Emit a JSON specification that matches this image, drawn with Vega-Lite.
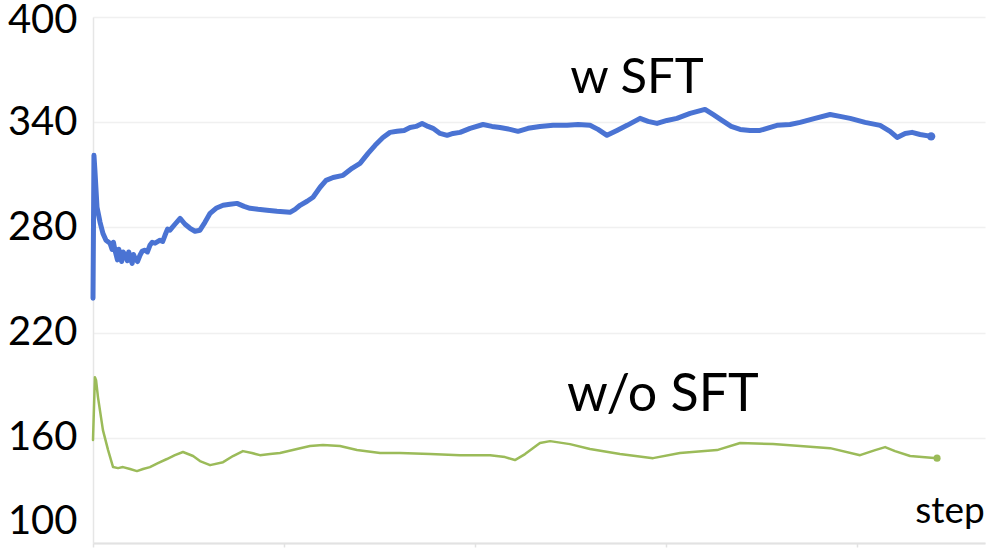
{
  "$schema": "https://vega.github.io/schema/vega-lite/v6.json",
  "width": 892,
  "height": 526,
  "autosize": {"type": "none"},
  "padding": {"left": 93, "top": 17, "right": 11, "bottom": 5},
  "background": "white",
  "config": {"view": {"stroke": null}},
  "datasets": {
    "lines": [
      {"series": "w SFT", "step": 0, "value": 239.6},
      {"series": "w SFT", "step": 5, "value": 321.1},
      {"series": "w SFT", "step": 10, "value": 312.5},
      {"series": "w SFT", "step": 21, "value": 291.5},
      {"series": "w SFT", "step": 37, "value": 282.9},
      {"series": "w SFT", "step": 52, "value": 276.6},
      {"series": "w SFT", "step": 68, "value": 272.7},
      {"series": "w SFT", "step": 89, "value": 271.0},
      {"series": "w SFT", "step": 100, "value": 267.5},
      {"series": "w SFT", "step": 107, "value": 271.5},
      {"series": "w SFT", "step": 115, "value": 267.0},
      {"series": "w SFT", "step": 128, "value": 261.5},
      {"series": "w SFT", "step": 135, "value": 267.5},
      {"series": "w SFT", "step": 141, "value": 265.3},
      {"series": "w SFT", "step": 150, "value": 260.5},
      {"series": "w SFT", "step": 158, "value": 266.0},
      {"series": "w SFT", "step": 168, "value": 264.1},
      {"series": "w SFT", "step": 180, "value": 261.0},
      {"series": "w SFT", "step": 187, "value": 266.0},
      {"series": "w SFT", "step": 194, "value": 263.0},
      {"series": "w SFT", "step": 205, "value": 259.5},
      {"series": "w SFT", "step": 212, "value": 264.5},
      {"series": "w SFT", "step": 220, "value": 262.4},
      {"series": "w SFT", "step": 233, "value": 260.5},
      {"series": "w SFT", "step": 246, "value": 264.1},
      {"series": "w SFT", "step": 258, "value": 266.5},
      {"series": "w SFT", "step": 272, "value": 267.0},
      {"series": "w SFT", "step": 285, "value": 266.0},
      {"series": "w SFT", "step": 298, "value": 269.8},
      {"series": "w SFT", "step": 310, "value": 271.5},
      {"series": "w SFT", "step": 325, "value": 271.0},
      {"series": "w SFT", "step": 351, "value": 272.7},
      {"series": "w SFT", "step": 365, "value": 272.0},
      {"series": "w SFT", "step": 377, "value": 275.5},
      {"series": "w SFT", "step": 390, "value": 279.0},
      {"series": "w SFT", "step": 403, "value": 278.4},
      {"series": "w SFT", "step": 429, "value": 281.8},
      {"series": "w SFT", "step": 456, "value": 285.2},
      {"series": "w SFT", "step": 482, "value": 281.8},
      {"series": "w SFT", "step": 508, "value": 279.5},
      {"series": "w SFT", "step": 534, "value": 277.8},
      {"series": "w SFT", "step": 560, "value": 278.4},
      {"series": "w SFT", "step": 586, "value": 282.9},
      {"series": "w SFT", "step": 613, "value": 288.0},
      {"series": "w SFT", "step": 644, "value": 290.9},
      {"series": "w SFT", "step": 681, "value": 292.6},
      {"series": "w SFT", "step": 717, "value": 293.2},
      {"series": "w SFT", "step": 754, "value": 293.7},
      {"series": "w SFT", "step": 791, "value": 292.0},
      {"series": "w SFT", "step": 822, "value": 290.9},
      {"series": "w SFT", "step": 864, "value": 290.3},
      {"series": "w SFT", "step": 911, "value": 289.8},
      {"series": "w SFT", "step": 963, "value": 289.2},
      {"series": "w SFT", "step": 1031, "value": 288.6},
      {"series": "w SFT", "step": 1058, "value": 290.3},
      {"series": "w SFT", "step": 1084, "value": 292.6},
      {"series": "w SFT", "step": 1121, "value": 294.9},
      {"series": "w SFT", "step": 1152, "value": 297.2},
      {"series": "w SFT", "step": 1189, "value": 302.9},
      {"series": "w SFT", "step": 1220, "value": 306.8},
      {"series": "w SFT", "step": 1257, "value": 308.5},
      {"series": "w SFT", "step": 1309, "value": 309.7},
      {"series": "w SFT", "step": 1356, "value": 313.7},
      {"series": "w SFT", "step": 1398, "value": 316.5},
      {"series": "w SFT", "step": 1440, "value": 322.2},
      {"series": "w SFT", "step": 1477, "value": 326.8},
      {"series": "w SFT", "step": 1518, "value": 331.3},
      {"series": "w SFT", "step": 1555, "value": 334.2},
      {"series": "w SFT", "step": 1592, "value": 334.8},
      {"series": "w SFT", "step": 1629, "value": 335.3},
      {"series": "w SFT", "step": 1660, "value": 337.0},
      {"series": "w SFT", "step": 1691, "value": 337.6},
      {"series": "w SFT", "step": 1723, "value": 339.3},
      {"series": "w SFT", "step": 1754, "value": 337.6},
      {"series": "w SFT", "step": 1780, "value": 336.5},
      {"series": "w SFT", "step": 1817, "value": 333.6},
      {"series": "w SFT", "step": 1854, "value": 332.5},
      {"series": "w SFT", "step": 1885, "value": 333.6},
      {"series": "w SFT", "step": 1922, "value": 334.2},
      {"series": "w SFT", "step": 1974, "value": 336.5},
      {"series": "w SFT", "step": 2042, "value": 338.7},
      {"series": "w SFT", "step": 2089, "value": 337.6},
      {"series": "w SFT", "step": 2131, "value": 337.0},
      {"series": "w SFT", "step": 2183, "value": 335.9},
      {"series": "w SFT", "step": 2225, "value": 334.8},
      {"series": "w SFT", "step": 2278, "value": 336.5},
      {"series": "w SFT", "step": 2340, "value": 337.6},
      {"series": "w SFT", "step": 2409, "value": 338.2},
      {"series": "w SFT", "step": 2482, "value": 338.2},
      {"series": "w SFT", "step": 2540, "value": 338.7},
      {"series": "w SFT", "step": 2602, "value": 338.2},
      {"series": "w SFT", "step": 2644, "value": 335.9},
      {"series": "w SFT", "step": 2691, "value": 332.5},
      {"series": "w SFT", "step": 2743, "value": 335.3},
      {"series": "w SFT", "step": 2796, "value": 338.2},
      {"series": "w SFT", "step": 2864, "value": 342.2},
      {"series": "w SFT", "step": 2906, "value": 340.5},
      {"series": "w SFT", "step": 2953, "value": 339.3},
      {"series": "w SFT", "step": 3005, "value": 341.0},
      {"series": "w SFT", "step": 3057, "value": 342.2},
      {"series": "w SFT", "step": 3126, "value": 345.0},
      {"series": "w SFT", "step": 3204, "value": 347.3},
      {"series": "w SFT", "step": 3246, "value": 344.4},
      {"series": "w SFT", "step": 3293, "value": 341.0},
      {"series": "w SFT", "step": 3341, "value": 337.6},
      {"series": "w SFT", "step": 3388, "value": 335.9},
      {"series": "w SFT", "step": 3440, "value": 335.3},
      {"series": "w SFT", "step": 3492, "value": 335.3},
      {"series": "w SFT", "step": 3581, "value": 338.2},
      {"series": "w SFT", "step": 3649, "value": 338.7},
      {"series": "w SFT", "step": 3702, "value": 339.9},
      {"series": "w SFT", "step": 3780, "value": 342.2},
      {"series": "w SFT", "step": 3859, "value": 344.4},
      {"series": "w SFT", "step": 3911, "value": 343.3},
      {"series": "w SFT", "step": 3964, "value": 342.2},
      {"series": "w SFT", "step": 4042, "value": 339.9},
      {"series": "w SFT", "step": 4121, "value": 338.2},
      {"series": "w SFT", "step": 4173, "value": 334.8},
      {"series": "w SFT", "step": 4210, "value": 331.3},
      {"series": "w SFT", "step": 4252, "value": 333.6},
      {"series": "w SFT", "step": 4288, "value": 334.2},
      {"series": "w SFT", "step": 4330, "value": 333.0},
      {"series": "w SFT", "step": 4388, "value": 331.9},
      {"series": "w/o SFT", "step": 0, "value": 158.7},
      {"series": "w/o SFT", "step": 10, "value": 194.6},
      {"series": "w/o SFT", "step": 16, "value": 192.9},
      {"series": "w/o SFT", "step": 26, "value": 183.2},
      {"series": "w/o SFT", "step": 52, "value": 164.4},
      {"series": "w/o SFT", "step": 79, "value": 153.0},
      {"series": "w/o SFT", "step": 105, "value": 143.3},
      {"series": "w/o SFT", "step": 131, "value": 142.7},
      {"series": "w/o SFT", "step": 157, "value": 143.3},
      {"series": "w/o SFT", "step": 194, "value": 142.2},
      {"series": "w/o SFT", "step": 230, "value": 141.0},
      {"series": "w/o SFT", "step": 262, "value": 142.2},
      {"series": "w/o SFT", "step": 298, "value": 143.3},
      {"series": "w/o SFT", "step": 340, "value": 145.6},
      {"series": "w/o SFT", "step": 387, "value": 147.9},
      {"series": "w/o SFT", "step": 429, "value": 150.1},
      {"series": "w/o SFT", "step": 471, "value": 151.9},
      {"series": "w/o SFT", "step": 524, "value": 149.6},
      {"series": "w/o SFT", "step": 560, "value": 146.7},
      {"series": "w/o SFT", "step": 613, "value": 144.4},
      {"series": "w/o SFT", "step": 681, "value": 146.1},
      {"series": "w/o SFT", "step": 733, "value": 149.6},
      {"series": "w/o SFT", "step": 785, "value": 152.4},
      {"series": "w/o SFT", "step": 832, "value": 151.3},
      {"series": "w/o SFT", "step": 874, "value": 150.1},
      {"series": "w/o SFT", "step": 927, "value": 150.7},
      {"series": "w/o SFT", "step": 979, "value": 151.3},
      {"series": "w/o SFT", "step": 1068, "value": 153.6},
      {"series": "w/o SFT", "step": 1136, "value": 155.3},
      {"series": "w/o SFT", "step": 1204, "value": 155.9},
      {"series": "w/o SFT", "step": 1293, "value": 155.3},
      {"series": "w/o SFT", "step": 1382, "value": 153.0},
      {"series": "w/o SFT", "step": 1503, "value": 151.3},
      {"series": "w/o SFT", "step": 1607, "value": 151.3},
      {"series": "w/o SFT", "step": 1765, "value": 150.7},
      {"series": "w/o SFT", "step": 1922, "value": 150.1},
      {"series": "w/o SFT", "step": 2079, "value": 150.1},
      {"series": "w/o SFT", "step": 2157, "value": 149.0},
      {"series": "w/o SFT", "step": 2209, "value": 147.3},
      {"series": "w/o SFT", "step": 2262, "value": 150.7},
      {"series": "w/o SFT", "step": 2340, "value": 157.0},
      {"series": "w/o SFT", "step": 2393, "value": 158.1},
      {"series": "w/o SFT", "step": 2497, "value": 156.4},
      {"series": "w/o SFT", "step": 2602, "value": 153.6},
      {"series": "w/o SFT", "step": 2759, "value": 150.7},
      {"series": "w/o SFT", "step": 2932, "value": 148.4},
      {"series": "w/o SFT", "step": 3073, "value": 151.3},
      {"series": "w/o SFT", "step": 3267, "value": 153.0},
      {"series": "w/o SFT", "step": 3388, "value": 157.0},
      {"series": "w/o SFT", "step": 3560, "value": 156.4},
      {"series": "w/o SFT", "step": 3702, "value": 155.3},
      {"series": "w/o SFT", "step": 3859, "value": 154.1},
      {"series": "w/o SFT", "step": 4016, "value": 150.1},
      {"series": "w/o SFT", "step": 4095, "value": 153.0},
      {"series": "w/o SFT", "step": 4147, "value": 154.7},
      {"series": "w/o SFT", "step": 4199, "value": 152.4},
      {"series": "w/o SFT", "step": 4278, "value": 149.6},
      {"series": "w/o SFT", "step": 4419, "value": 148.4}
    ],
    "ends": [
      {"series": "w SFT", "step": 4388, "value": 331.9},
      {"series": "w/o SFT", "step": 4419, "value": 148.4}
    ],
    "labels": [
      {"label": "w SFT", "step": 2848, "value": 365, "size": 49},
      {"label": "w/o SFT", "step": 2984, "value": 184.4, "size": 52},
      {"label": "step", "step": 4487, "value": 117.7, "size": 37}
    ]
  },
  "layer": [
    {
      "data": {"name": "lines"},
      "mark": {"type": "line", "strokeJoin": "round", "strokeCap": "round"},
      "encoding": {
        "x": {
          "field": "step", "type": "quantitative",
          "scale": {"domain": [0, 4670], "nice": false, "zero": false},
          "axis": {
            "values": [0, 1000, 2000, 3000, 4000],
            "labels": false, "title": null, "grid": false,
            "domainColor": "#e2e2e2", "domainWidth": 2,
            "tickColor": "#e2e2e2", "tickSize": 4, "tickWidth": 1.5
          }
        },
        "y": {
          "field": "value", "type": "quantitative",
          "scale": {"domain": [100, 400], "nice": false, "zero": false},
          "axis": {
            "values": [100, 160, 220, 280, 340, 400],
            "title": null, "ticks": false,
            "domainColor": "#e6e6e6", "domainWidth": 1.5,
            "gridColor": "#f0f0f0", "gridWidth": 1.5,
            "labelFont": "Comic Sans MS, Lato, sans-serif",
            "labelFontSize": 40, "labelColor": "#000000",
            "labelPadding": 16, "labelFlush": false, "labelOverlap": false,
            "labelOffset": {"condition": [{"test": "datum.value === 100", "value": -22}, {"test": "datum.value === 400", "value": 3}], "value": 0}
          }
        },
        "color": {
          "field": "series", "type": "nominal",
          "scale": {"domain": ["w SFT", "w/o SFT"], "range": ["#4a73d3", "#9bbb59"]},
          "legend": null
        },
        "strokeWidth": {
          "field": "series", "type": "nominal",
          "scale": {"domain": ["w SFT", "w/o SFT"], "range": [5, 2.5]},
          "legend": null
        }
      }
    },
    {
      "data": {"name": "ends"},
      "mark": {"type": "circle", "opacity": 1},
      "encoding": {
        "x": {"field": "step", "type": "quantitative"},
        "y": {"field": "value", "type": "quantitative"},
        "color": {"field": "series", "type": "nominal", "legend": null},
        "size": {
          "field": "series", "type": "nominal",
          "scale": {"domain": ["w SFT", "w/o SFT"], "range": [70, 50]},
          "legend": null
        }
      }
    },
    {
      "data": {"name": "labels"},
      "mark": {"type": "text", "font": "Comic Sans MS, Lato, sans-serif", "color": "#000000", "baseline": "middle", "align": "center"},
      "encoding": {
        "x": {"field": "step", "type": "quantitative"},
        "y": {"field": "value", "type": "quantitative"},
        "text": {"field": "label"},
        "size": {"field": "size", "type": "quantitative", "scale": null}
      }
    }
  ]
}
